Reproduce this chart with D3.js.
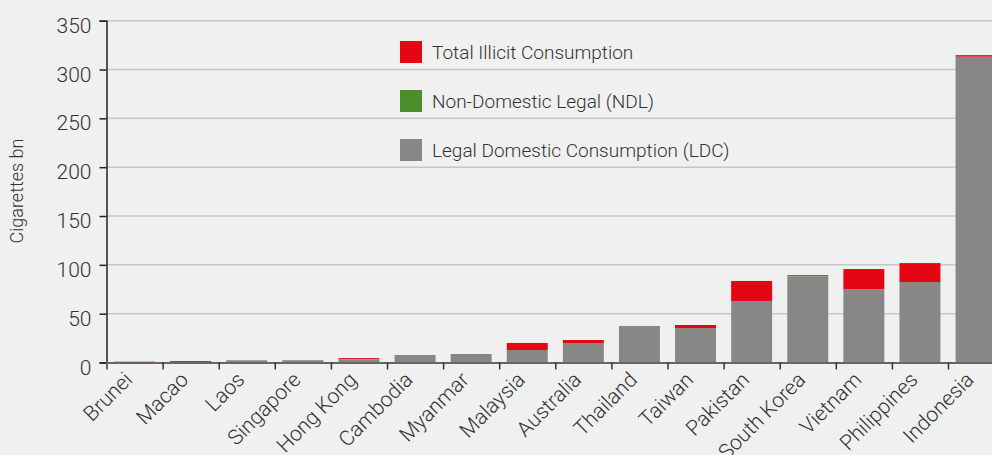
<!DOCTYPE html>
<html>
<head>
<meta charset="utf-8">
<script src="https://cdn.jsdelivr.net/npm/d3@7"></script>
<style>
  body { margin: 0; background: #f0f0f0; }
  svg { display: block; }
</style>
</head>
<body>
<svg></svg>
<script>
const countries = ['Brunei', 'Macao', 'Laos', 'Singapore', 'Hong Kong', 'Cambodia', 'Myanmar', 'Malaysia',
  'Australia', 'Thailand', 'Taiwan', 'Pakistan', 'South Korea', 'Vietnam', 'Philippines', 'Indonesia']
const ldc = [0.4, 0.6, 2.3, 2.4, 3.2, 7.7, 8.7, 12.8, 20.0, 37.4, 35.3, 63.0, 88.3, 75.2, 82.4, 313.2]
const ndl = [0, 0, 0, 0, 0.5, 0, 0, 0, 0, 0, 0, 0, 1.3, 0, 0, 0]
const illicit = [0.4, 0.9, 0, 0, 0.9, 0, 0, 7.2, 3.0, 0, 3.1, 20.5, 0, 20.5, 19.4, 1.5]
const yTicks = [0, 50, 100, 150, 200, 250, 300, 350]

const seriesKeys = ['ldc', 'ndl', 'illicit']
const seriesNames = {illicit: 'Total Illicit Consumption', ndl: 'Non-Domestic Legal (NDL)', ldc: 'Legal Domestic Consumption (LDC)'}
const colors = {ldc: '#878786', ndl: '#4a8f2b', illicit: '#e30613'}

const w = 992
const h = 455
const font = 'Roboto, sans-serif'
const textColor = '#333'

const svg = d3.select('svg')
  .attr('width', w)
  .attr('height', h)
  .attr('font-family', font);

const left = 106.5
const step = 56.1
const top0 = 20.7, base = 362.5

const table = countries.map((c, i) => ({country: c, ldc: ldc[i], ndl: ndl[i], illicit: illicit[i]}))

const x = d3.scaleBand()
  .domain(countries)
  .range([left, left + step * countries.length])
  .paddingInner(0.27)
  .paddingOuter(0.135)

const y = d3.scaleLinear()
  .domain([0, 350])
  .range([base, top0])

// gridlines
svg.append('g').selectAll('line').data(yTicks.slice(1))
  .enter().append('line')
  .attr('x1', left).attr('x2', w)
  .attr('y1', d => y(d)).attr('y2', d => y(d))
  .attr('stroke', '#c6c6c6')
  .attr('stroke-width', 1.5)

// bars
const stack = d3.stack().keys(seriesKeys)(table)
svg.append('g').selectAll('g').data(stack)
  .enter().append('g')
  .attr('fill', s => colors[s.key])
  .selectAll('rect').data(s => s)
  .enter().append('rect')
  .attr('x', d => x(d.data.country))
  .attr('width', x.bandwidth())
  .attr('y', d => y(d[1]))
  .attr('height', d => y(d[0]) - y(d[1]))

// y axis
const yAxisG = svg.append('g')
  .attr('transform', `translate(${left},0)`)
  .call(d3.axisLeft(y).tickValues(yTicks).tickSize(7).tickPadding(8))
  .attr('font-family', font)
yAxisG.select('.domain').attr('stroke', '#222').attr('stroke-width', 1.5)
yAxisG.selectAll('.tick line').attr('stroke', '#222').attr('stroke-width', 1.5)
yAxisG.selectAll('text')
  .attr('dy', '0.55em')
  .attr('font-size', 21)
  .attr('font-weight', 300)
  .attr('fill', textColor)

svg.append('text')
  .attr('transform', 'rotate(-90)')
  .attr('x', -191)
  .attr('y', 23)
  .attr('text-anchor', 'middle')
  .attr('font-size', 18)
  .attr('font-weight', 300)
  .attr('fill', textColor)
  .text('Cigarettes bn')

// x axis: ticks between categories
const xEdge = d3.scaleLinear().domain([0, countries.length]).range([left, left + step * countries.length])
const xAxisG = svg.append('g')
  .attr('transform', `translate(0,${base})`)
  .call(d3.axisBottom(xEdge).tickValues(d3.range(1, countries.length)).tickSize(7).tickFormat(''))
xAxisG.select('.domain').attr('stroke', '#666').attr('stroke-width', 2)
xAxisG.selectAll('.tick line').attr('stroke', '#333').attr('stroke-width', 1.5)

svg.append('g').selectAll('text').data(countries)
  .enter().append('text')
  .attr('transform', d => `translate(${x(d) + x.bandwidth() / 2 - 1},381) rotate(-45)`)
  .attr('text-anchor', 'end')
  .attr('font-size', 21)
  .attr('font-weight', 300)
  .attr('fill', textColor)
  .text(d => d)

// legend
const legend = svg.append('g').selectAll('g').data(['illicit', 'ndl', 'ldc'])
  .enter().append('g')
  .attr('transform', (d, i) => `translate(400,${41 + i * 49})`)
legend.append('rect')
  .attr('width', 22).attr('height', 22)
  .attr('fill', d => colors[d])
legend.append('text')
  .attr('x', 32).attr('y', 18)
  .attr('font-size', 19)
  .attr('font-weight', 300)
  .attr('fill', textColor)
  .text(d => seriesNames[d])
</script>
</body>
</html>
